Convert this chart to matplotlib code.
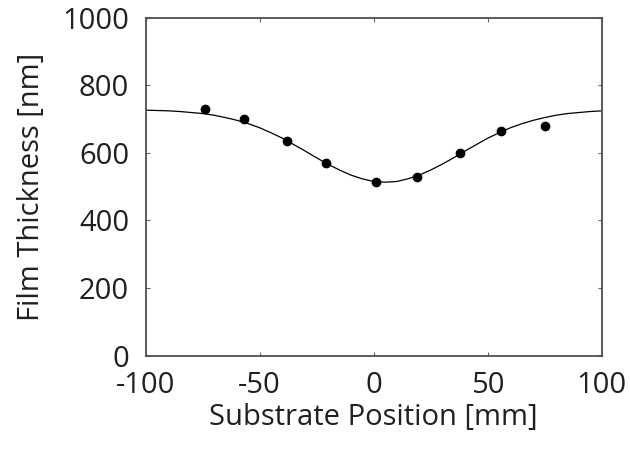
import numpy as np
import matplotlib
matplotlib.use("Agg")
import matplotlib.pyplot as plt

plt.rcParams.update({
    "font.family": ["Open Sans", "DejaVu Sans"],
    "font.size": 21,
    "axes.unicode_minus": False,
})

# measured points
pos_mm = [-74, -57, -38, -21, 1, 19, 38, 56, 75]
thick_nm = [729, 699, 635, 570, 514, 529, 599, 665, 680]

# fitted curve
fit_x = [-100, -95, -90, -85, -80, -75, -70, -65, -60, -55, -50, -45, -40,
         -35, -30, -25, -20, -15, -10, -5, 0, 5, 10, 15, 20, 25, 30, 35, 40,
         45, 50, 55, 60, 65, 70, 75, 80, 85, 90, 95, 100]
fit_y = [726, 725, 724, 722, 719, 716, 711, 704, 696, 686, 674, 659, 643,
         624, 605, 585, 566, 549, 534, 523, 515, 513, 515, 523, 534, 549,
         566, 585, 605, 624, 643, 659, 674, 686, 696, 704, 711, 716, 719,
         722, 724]

fig = plt.figure(figsize=(6.3, 4.5), dpi=100)
ax = fig.add_axes([0.2313, 0.2096, 0.7237, 0.7515])
ax.plot(fit_x, fit_y, color="k", lw=0.9)
ax.plot(pos_mm, thick_nm, "o", color="k", ms=6)

ax.set_xlim(-100, 100)
ax.set_ylim(0, 1000)
ax.set_xticks([-100, -50, 0, 50, 100])
ax.set_yticks([0, 200, 400, 600, 800, 1000])
ax.tick_params(direction="in", top=True, right=True, length=3,
               width=0.8, color="0.4", labelsize=21, labelcolor="#231f20")
ax.tick_params(axis="x", pad=11)
ax.tick_params(axis="y", pad=12)
for s in ax.spines.values():
    s.set_color("0.3")
    s.set_linewidth(1.3)
ax.set_xlabel("Substrate Position [mm]", fontsize=21, labelpad=2,
              color="#231f20")
ax.set_ylabel("Film Thickness [nm]", fontsize=21, labelpad=12,
              color="#231f20")

fig.savefig("out.png", dpi=100)
